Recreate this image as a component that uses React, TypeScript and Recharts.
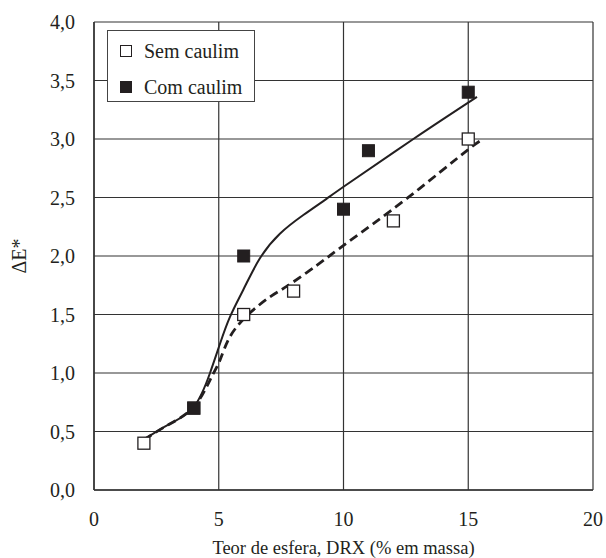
import React from 'react';
import { ComposedChart, Line, Scatter, XAxis, YAxis, CartesianGrid } from 'recharts';

// measured points
const semX = [2, 4, 6, 8, 12, 15];
const semY = [0.4, 0.7, 1.5, 1.7, 2.3, 3.0];
const comX = [4, 6, 10, 11, 15];
const comY = [0.7, 2.0, 2.4, 2.9, 3.4];

// trend curves
const semFitX = [2, 3, 4, 4.65, 5.05, 5.45, 6.18, 7.05, 7.72, 8.93, 10.19, 12.53, 15, 15.6];
const semFitY = [0.43, 0.56, 0.71, 0.94, 1.11, 1.31, 1.5, 1.65, 1.74, 1.92, 2.12, 2.49, 2.91, 2.99];
const comFitX = [2, 3, 4, 4.65, 5.05, 5.45, 5.98, 6.65, 7.45, 8.39, 9.33, 10.06, 12.8, 15.35];
const comFitY = [0.43, 0.56, 0.71, 1.0, 1.25, 1.48, 1.71, 1.98, 2.19, 2.35, 2.49, 2.6, 3.0, 3.36];

const xTicks = [0, 5, 10, 15, 20];
const yTicks = [0, 0.5, 1, 1.5, 2, 2.5, 3, 3.5, 4];

const zip = (xs: number[], ys: number[]) => xs.map((x, i) => ({ x, y: ys[i] }));

const semData = zip(semX, semY);
const comData = zip(comX, comY);
const semFit = zip(semFitX, semFitY);
const comFit = zip(comFitX, comFitY);

const INK = '#231f20';
const FONT = '"Liberation Serif", "Times New Roman", serif';

const OpenSquare = (props: any) => {
  const { cx, cy } = props;
  return <rect x={cx - 6} y={cy - 6} width={12} height={12} fill="#fff" stroke={INK} strokeWidth={1.3} />;
};

const FilledSquare = (props: any) => {
  const { cx, cy } = props;
  return <rect x={cx - 6} y={cy - 6} width={12} height={12} fill={INK} stroke={INK} strokeWidth={1} />;
};

const fmt = (v: number) => v.toFixed(1).replace('.', ',');

const LegendBox = () => (
  <div style={{
    position: 'absolute',
    left: 107,
    top: 30,
    width: 148,
    height: 72,
    border: '1.5px solid #444',
    background: '#fff',
    fontFamily: FONT,
    fontSize: 20,
    lineHeight: '20px',
    color: INK,
    boxSizing: 'border-box',
    padding: '10px 0 0 12px'
  }}>
    <div style={{ display: 'flex', alignItems: 'center', height: 20 }}>
      <span style={{ width: 10, height: 10, border: `1.3px solid ${INK}`, marginRight: 12 }} />
      Sem caulim
    </div>
    <div style={{ display: 'flex', alignItems: 'center', height: 20, marginTop: 16 }}>
      <span style={{ width: 12, height: 12, background: INK, marginRight: 12 }} />
      Com caulim
    </div>
  </div>
);

const YLabel = () => (
  <text x={19} y={256} transform="rotate(-90 19 256)" textAnchor="middle" dominantBaseline="central"
    fontFamily={FONT} fontSize={20} fill={INK}>
    ΔE*
  </text>
);

export default function App() {
  return (
    <div style={{ position: 'absolute', left: 0, top: 0, width: 606, height: 558, background: '#fff' }}>
      <ComposedChart width={606} height={558} margin={{ top: 22, right: 13, bottom: 0, left: 0 }}>
        <CartesianGrid stroke="#333" strokeWidth={1.2} />
        <XAxis
          type="number"
          dataKey="x"
          domain={[0, 20]}
          ticks={xTicks}
          height={68}
          tickLine={false}
          tickSize={0}
          tickMargin={22}
          axisLine={{ stroke: '#333', strokeWidth: 1.5 }}
          tick={{ fill: INK, fontFamily: FONT, fontSize: 20 }}
          label={{ value: 'Teor de esfera, DRX (% em massa)', position: 'insideBottom', offset: 4, fill: INK, fontFamily: FONT, fontSize: 18.5 }}
        />
        <YAxis
          type="number"
          domain={[0, 4]}
          ticks={yTicks}
          width={94}
          tickLine={false}
          tickSize={0}
          tickMargin={19}
          tickFormatter={fmt}
          axisLine={{ stroke: '#333', strokeWidth: 1.5 }}
          tick={{ fill: INK, fontFamily: FONT, fontSize: 20 }}
          label={{ content: () => <YLabel /> }}
        />
        <Line data={comFit} dataKey="y" type="natural" stroke={INK} strokeWidth={2} dot={false}
          isAnimationActive={false} legendType="none" />
        <Line data={semFit} dataKey="y" type="natural" stroke={INK} strokeWidth={2.8} strokeDasharray="9 5"
          dot={false} isAnimationActive={false} legendType="none" />
        <Scatter data={semData} dataKey="y" shape={<OpenSquare />} isAnimationActive={false} />
        <Scatter data={comData} dataKey="y" shape={<FilledSquare />} isAnimationActive={false} />
      </ComposedChart>
      <LegendBox />
    </div>
  );
}
